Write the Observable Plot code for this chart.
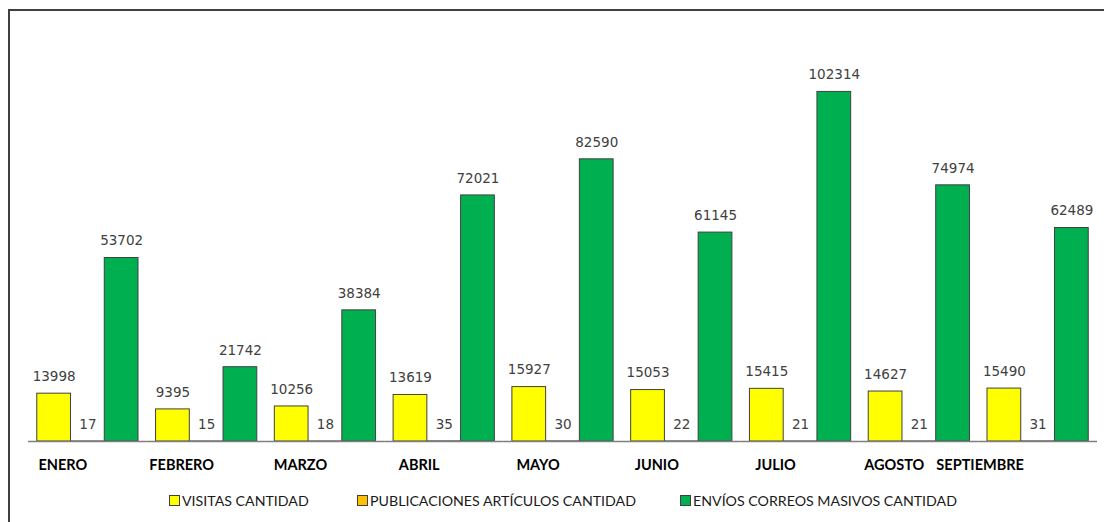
<!DOCTYPE html>
<html>
<head>
<meta charset="utf-8">
<script src="https://cdn.jsdelivr.net/npm/d3@7"></script>
<script src="https://cdn.jsdelivr.net/npm/@observablehq/plot@0.6"></script>
<style>
  html, body { margin: 0; padding: 0; background: #fff; width: 1104px; height: 522px; overflow: hidden; }
  #frame { position: absolute; left: 8px; top: 9px; width: 1110px; height: 530px; border-left: 2px solid #404040; border-top: 2px solid #404040; }
  #chart { position: absolute; left: 0; top: 10px; }
  #legend { position: absolute; left: 0; top: 492px; width: 1104px; height: 20px; font-family: Lato, "Open Sans", sans-serif; font-size: 14.2px; color: #1a1a1a; }
  .item { position: absolute; top: 0; display: flex; align-items: center; gap: 2px; white-space: nowrap; }
  .sw { width: 9px; height: 9px; border: 1px solid #404040; }
</style>
</head>
<body>
<div id="frame"></div>
<div id="chart"></div>
<div id="legend"></div>
<script>
const months = ["ENERO","FEBRERO","MARZO","ABRIL","MAYO","JUNIO","JULIO","AGOSTO","SEPTIEMBRE"];
const series = ["VISITAS CANTIDAD","PUBLICACIONES ARTÍCULOS CANTIDAD","ENVÍOS CORREOS MASIVOS CANTIDAD"];
const colors = ["#ffff00","#ffc000","#00b050"];
const visitas = [13998, 9395, 10256, 13619, 15927, 15053, 15415, 14627, 15490];
const publicaciones = [17, 15, 18, 35, 30, 22, 21, 21, 31];
const envios = [53702, 21742, 38384, 72021, 82590, 61145, 102314, 74974, 62489];

const seriesValues = [visitas, publicaciones, envios];
const rows = [];
months.forEach((m, i) => {
  series.forEach((s, j) => rows.push({month: m, series: s, value: seriesValues[j][i]}));
});

const lastMonth = months[months.length - 1];
const labelStyle = {frameAnchor: "bottom", dy: 24, lineAnchor: "middle", fill: "#000", fontFamily: "Lato, 'Open Sans', sans-serif", fontWeight: "bold", fontSize: 14.5};

const chart = Plot.plot({
  width: 1104,
  height: 470,
  marginLeft: 28,
  marginRight: 7,
  marginTop: 21,
  marginBottom: 39,
  fx: {domain: months, padding: 0, round: false, axis: null},
  x: {domain: series, paddingInner: 0, paddingOuter: 0.26, round: false, axis: null},
  y: {domain: [0, 120000], axis: null},
  color: {domain: series, range: colors},
  marks: [
    Plot.barY(rows, {fx: "month", x: "series", y: "value", fill: "series", stroke: "#404040", strokeWidth: 1, inset: 0}),
    Plot.ruleY([0], {stroke: "#7f7f7f", strokeWidth: 1.5}),
    Plot.text(rows, {fx: "month", x: "series", y: "value", text: d => String(d.value), dy: -17, lineAnchor: "middle", fill: "#404040", fontFamily: "DejaVu Sans", fontSize: 13.5}),
    Plot.text(months.filter(m => m !== lastMonth), {fx: d => d, text: d => d, dx: -25, ...labelStyle}),
    Plot.text([lastMonth], {fx: d => d, text: d => d, dx: -58, ...labelStyle})
  ],
  style: {background: "transparent"}
});
document.getElementById("chart").appendChild(chart);

const legendLeft = [169, 357, 680];
const legend = document.getElementById("legend");
series.forEach((s, j) => {
  const item = document.createElement("div");
  item.className = "item";
  item.style.left = legendLeft[j] + "px";
  const sw = document.createElement("div");
  sw.className = "sw";
  sw.style.background = colors[j];
  const t = document.createElement("span");
  t.textContent = s;
  item.appendChild(sw);
  item.appendChild(t);
  legend.appendChild(item);
});
</script>
</body>
</html>
